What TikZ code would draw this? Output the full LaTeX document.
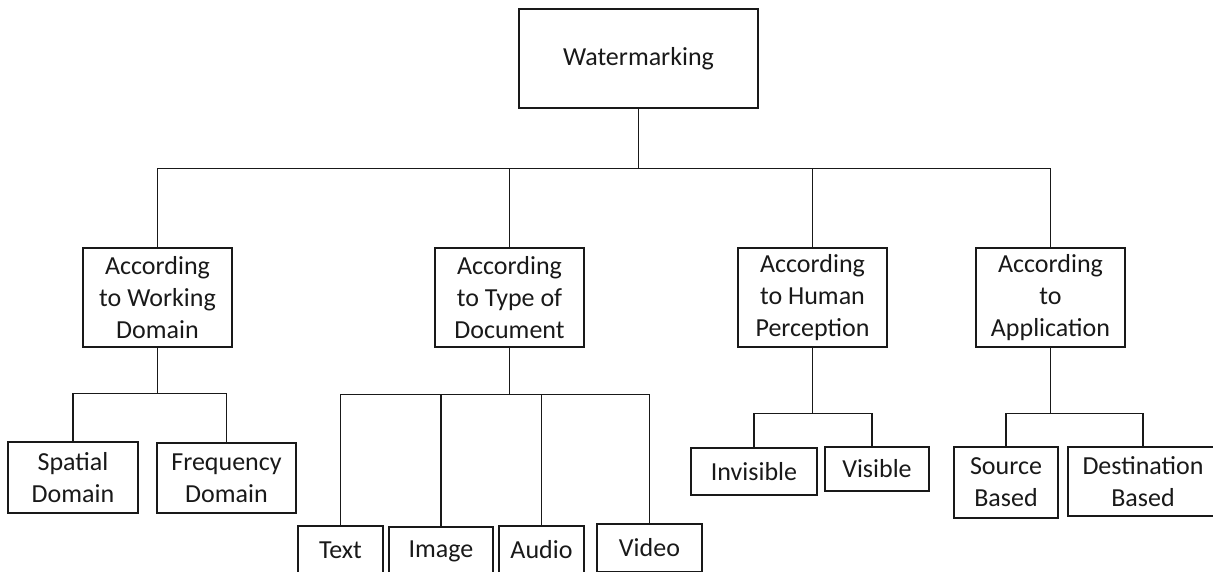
\documentclass[tikz,border=0pt]{standalone}
\usepackage{fontspec}
\setmainfont{Carlito}
\newdimen\pxu
\pxu=0.75pt
\begin{document}
\begin{tikzpicture}[x=0.75pt,y=-0.75pt,
  box/.style={draw=black!90, line width=1.1pt, inner sep=0pt, align=center,
    font=\fontsize{19.5}{24}\selectfont, text=black!90},
  link/.style={draw=black!90, line width=1.1pt}]
\useasboundingbox (0,0) rectangle (1213,571);
\clip (0,0) rectangle (1213,571);

% root
\node[box, minimum width=239\pxu, minimum height=99\pxu] (wm) at (638.5,58.5) {Watermarking};

% level 1
\node[box, minimum width=149\pxu, minimum height=99\pxu] (wd) at (157.5,297.5) {According\\to Working\\Domain};
\node[box, minimum width=149\pxu, minimum height=99\pxu] (td) at (509.5,297.5) {According\\to Type of\\Document};
\node[box, minimum width=149\pxu, minimum height=99\pxu] (hp) at (812.5,297.5) {According\\to Human\\Perception};
\node[box, minimum width=149\pxu, minimum height=99\pxu] (ap) at (1050.5,297.5) {According\\to\\Application};

% level 2: working domain
\node[box, minimum width=130\pxu, minimum height=71\pxu] (sd) at (73,477.5) {Spatial\\Domain};
\node[box, minimum width=139\pxu, minimum height=70\pxu] (fd) at (226.5,478) {Frequency\\Domain};

% level 2: type of document
\node[box, minimum width=85\pxu, minimum height=48\pxu] (tx) at (340.5,550) {Text};
\node[box, minimum width=104\pxu, minimum height=48\pxu] (im) at (441,551) {Image};
\node[box, minimum width=85\pxu, minimum height=48\pxu] (au) at (541.5,550) {Audio};
\node[box, minimum width=105\pxu, minimum height=48\pxu] (vi) at (649.5,548) {Video};

% level 2: human perception
\node[box, minimum width=126\pxu, minimum height=47\pxu] (inv) at (754,471.5) {Invisible};
\node[box, minimum width=104\pxu, minimum height=44\pxu] (vis) at (877,469) {Visible};

% level 2: application
\node[box, minimum width=104\pxu, minimum height=71\pxu] (src) at (1006,482.5) {Source\\Based};
\node[box, minimum width=150\pxu, minimum height=69\pxu] (dst) at (1143,481.5) {Destination\\Based};

% root connectors
\foreach \c in {wd,td,hp,ap}
  \draw[link] (wm.south) -- ++(0,60) -| (\c.north);

% working domain connectors
\foreach \c in {sd,fd}
  \draw[link] (wd.south) -- ++(0,46) -| (\c.north);

% document type connectors
\foreach \c in {tx,im,au,vi}
  \draw[link] (td.south) -- ++(0,47) -| (\c.north);

% perception connectors
\draw[link] (hp.south) -- ++(0,66) -| (inv.north);
\draw[link] (hp.south) -- ++(0,66) -| ([xshift=-5\pxu]vis.north);

% application connectors
\foreach \c in {src,dst}
  \draw[link] (ap.south) -- ++(0,66) -| (\c.north);
\end{tikzpicture}
\end{document}
